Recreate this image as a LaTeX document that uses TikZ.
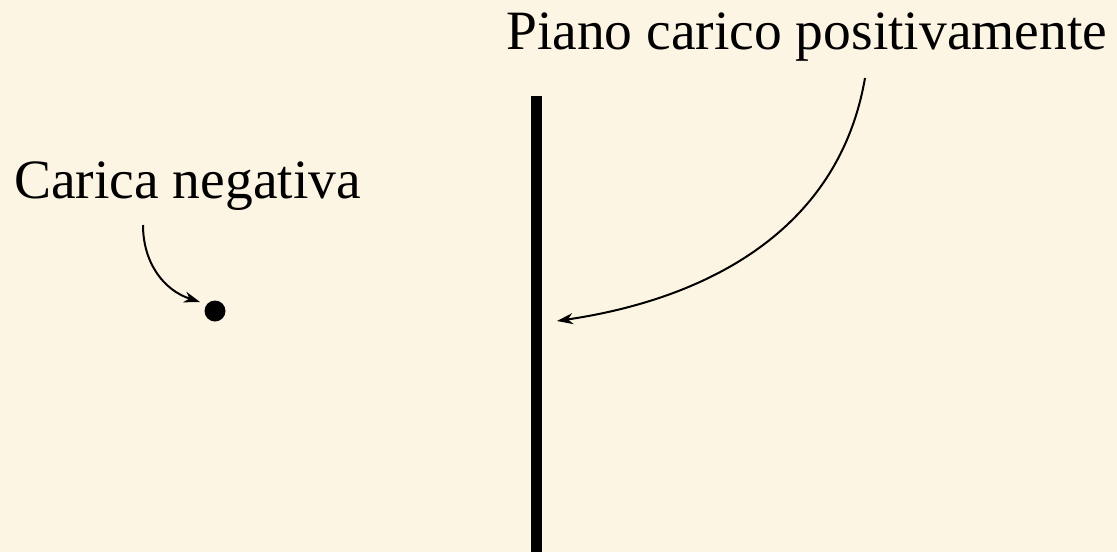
\documentclass[tikz,border=0pt]{standalone}
\usepackage{fontspec}
\setmainfont{Liberation Serif}
\usetikzlibrary{arrows.meta}
\definecolor{bgcream}{RGB}{253,245,228}
\tikzset{
  lbl/.style={font=\fontsize{55.5}{66}\selectfont, inner sep=0pt, anchor=base west},
  pointer/.style={line width=2pt, -{Stealth[length=16pt,width=11pt,inset=5pt]}},
}
\begin{document}
\begin{tikzpicture}[x=1pt,y=-1pt]
\fill[bgcream] (0,0) rectangle (1117,552);
\useasboundingbox (0,0) rectangle (1117,552);
\node[lbl] (pos) at (506,49) {Piano carico positivamente};
\node[lbl] (neg) at (14,198) {Carica negativa};
\draw[line width=11pt] (536,96) -- (536,552);
\node[circle, fill=black, inner sep=0pt, minimum size=21pt] (dot) at (215,311) {};
\coordinate (s1) at (143,225);
\coordinate (e1) at (200,302);
\coordinate (s2) at (865,78);
\coordinate (e2) at (557,321);
\draw[pointer] (s1) .. controls (143,262) and (163,290) .. (e1);
\draw[pointer] (s2) .. controls (838,235) and (700,300) .. (e2);
\end{tikzpicture}
\end{document}
